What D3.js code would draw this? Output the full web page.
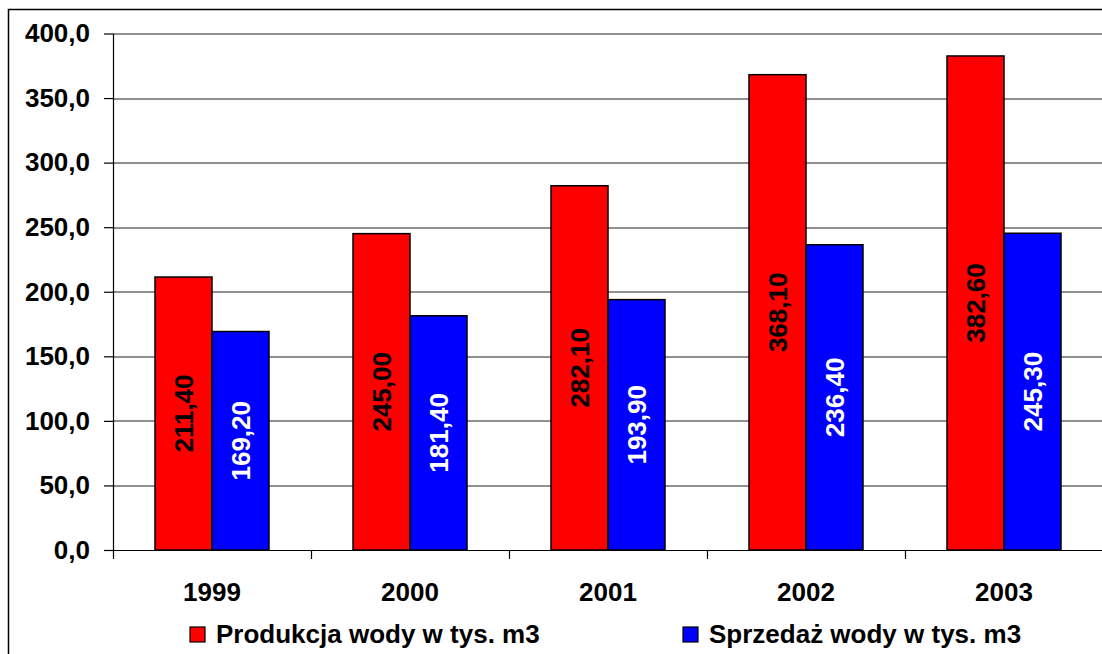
<!DOCTYPE html>
<html>
<head>
<meta charset="utf-8">
<script src="https://cdnjs.cloudflare.com/ajax/libs/d3/7.8.5/d3.min.js"></script>
<style>
  body { margin: 0; background: #fff; }
  svg { display: block; font-family: "Liberation Sans", Arial, sans-serif; font-weight: bold; }
</style>
</head>
<body>
<div id="chart"></div>
<script>
// Data
const years = ['1999', '2000', '2001', '2002', '2003'];
const production = [211.4, 245.0, 282.1, 368.1, 382.6];
const sales = [169.2, 181.4, 193.9, 236.4, 245.3];
const seriesNames = ['Produkcja wody w tys. m3', 'Sprzedaż wody w tys. m3'];
const yTicks = [0, 50, 100, 150, 200, 250, 300, 350, 400];

const W = 1102, H = 654;
const margin = {top: 33.5, right: -1, bottom: 104, left: 113};
const w = W - margin.left - margin.right;
const h = H - margin.top - margin.bottom;

let svg = d3.select('#chart')
  .append('svg')
    .attr('width', W)
    .attr('height', H);

// outer frame (runs off right/bottom edges)
svg.append('rect')
  .attr('x', 8.5).attr('y', 9.5)
  .attr('width', 1110).attr('height', 700)
  .attr('fill', 'none')
  .attr('stroke', '#000')
  .attr('stroke-width', 1.5);

let g = svg.append('g').attr('transform', `translate(${margin.left},${margin.top})`);

let xScale = d3.scaleBand().domain(years).range([0, w]);
let subScale = d3.scaleBand().domain([0, 1]).range([0, 114]);
let yScale = d3.scaleLinear().domain([0, 400]).range([h, 0]);

const fmtTick = d => d3.format('.1f')(d).replace('.', ',');
const fmtVal = d => d3.format('.2f')(d).replace('.', ',');

// gridlines
g.append('g')
  .selectAll('line')
  .data(yTicks.filter(d => d > 0))
  .enter().append('line')
    .attr('x1', 0).attr('x2', w)
    .attr('y1', d => Math.round(yScale(d)) + 0.5)
    .attr('y2', d => Math.round(yScale(d)) + 0.5)
    .attr('stroke', '#222')
    .attr('stroke-width', 1.2);

// y axis
let yAxis = d3.axisLeft(yScale).tickValues(yTicks).tickFormat(fmtTick).tickSizeInner(9).tickSizeOuter(0).tickPadding(14);
let yg = g.append('g').call(yAxis);
yg.selectAll('text').attr('font-size', 26).attr('font-family', null).attr('fill', '#000');
yg.selectAll('line,path').attr('stroke', '#000').attr('stroke-width', 1.2);

// x axis with ticks on category boundaries
g.append('line')
  .attr('x1', 0).attr('x2', w)
  .attr('y1', h + 0.5).attr('y2', h + 0.5)
  .attr('stroke', '#000').attr('stroke-width', 1.2);
g.append('g').selectAll('line')
  .data(years.concat(['end']))
  .enter().append('line')
    .attr('x1', (d, i) => i * xScale.bandwidth() + 0.5)
    .attr('x2', (d, i) => i * xScale.bandwidth() + 0.5)
    .attr('y1', h).attr('y2', h + 9)
    .attr('stroke', '#000').attr('stroke-width', 1.2);
g.append('g').selectAll('text')
  .data(years)
  .enter().append('text')
    .attr('x', d => xScale(d) + xScale.bandwidth() / 2)
    .attr('y', h + 51)
    .attr('text-anchor', 'middle')
    .attr('font-size', 26)
    .text(d => d);

// bars
const colors = ['#ff0000', '#0000ff'];
const labelColors = ['#000', '#fff'];
const series = [production, sales];
let groupOffset = (xScale.bandwidth() - 114) / 2;

series.forEach((vals, s) => {
  let bars = g.append('g').selectAll('g')
    .data(vals)
    .enter().append('g');
  bars.append('rect')
    .attr('x', (d, i) => xScale(years[i]) + groupOffset + subScale(s))
    .attr('y', d => yScale(d))
    .attr('width', subScale.bandwidth())
    .attr('height', d => h - yScale(d))
    .attr('fill', colors[s])
    .attr('stroke', '#000')
    .attr('stroke-width', 1.5);
  bars.append('text')
    .attr('transform', (d, i) => {
      let cx = xScale(years[i]) + groupOffset + subScale(s) + subScale.bandwidth() / 2;
      let cy = (yScale(d) + h) / 2;
      return `translate(${cx},${cy}) rotate(-90)`;
    })
    .attr('text-anchor', 'middle')
    .attr('dy', '0.36em')
    .attr('font-size', 26)
    .attr('fill', labelColors[s])
    .text(d => fmtVal(d));
});

// legend
const legendX = [190, 683];
let leg = svg.append('g').selectAll('g')
  .data(seriesNames)
  .enter().append('g')
    .attr('transform', (d, i) => `translate(${legendX[i]},627)`);
leg.append('rect')
  .attr('width', 15).attr('height', 15)
  .attr('fill', (d, i) => colors[i])
  .attr('stroke', '#000').attr('stroke-width', 1.2);
leg.append('text')
  .attr('x', 26).attr('y', 16)
  .attr('font-size', 26)
  .text(d => d);
</script>
</body>
</html>
